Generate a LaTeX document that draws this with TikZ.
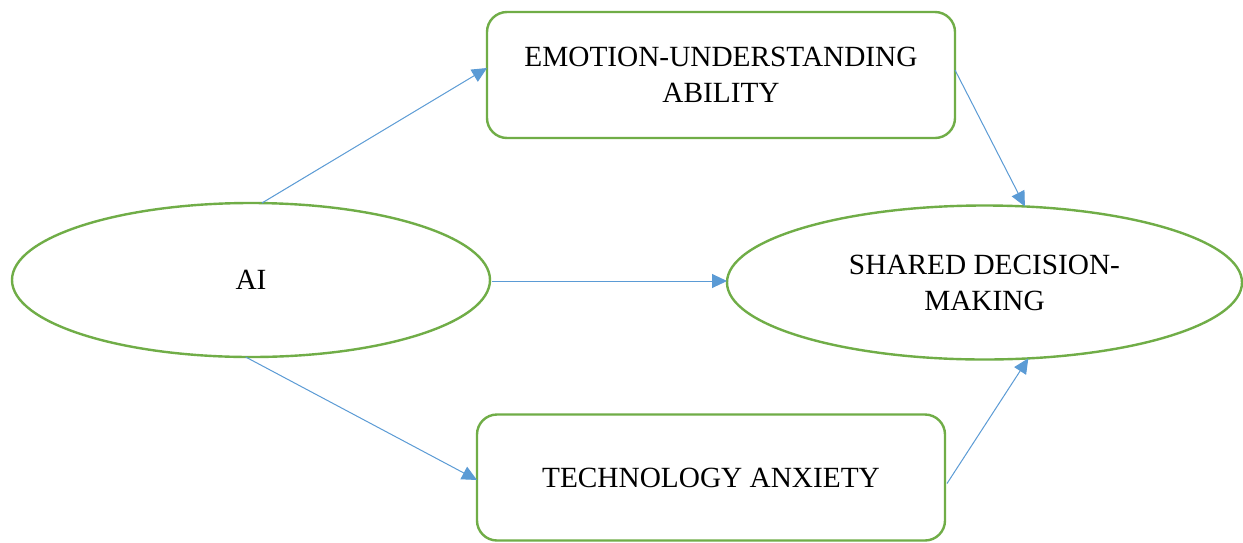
\documentclass[tikz,border=0pt]{standalone}
\usepackage{fontspec}
\setmainfont{Liberation Serif}
\usetikzlibrary{shapes.geometric,arrows.meta,calc}
\definecolor{frame}{HTML}{70AD47}
\definecolor{link}{HTML}{5B9BD5}
\begin{document}
\begin{tikzpicture}[x=1pt,y=-1pt,
  every node/.style={font=\fontsize{29.3}{36}\selectfont, align=center, text=black, inner sep=0pt, outer sep=0pt},
  oval/.style={ellipse, draw=frame, line width=2.4pt, fill=white},
  card/.style={rectangle, rounded corners=20pt, draw=frame, line width=2.4pt, fill=white,
    minimum width=468pt, minimum height=126pt},
  link/.style={draw=link, line width=1pt, -{Triangle[length=15pt,width=14pt]}}]
\useasboundingbox (0,0) rectangle (1243,542);
\fill[white] (0,0) rectangle (1243,542);

% constructs
\node[oval, minimum width=478pt, minimum height=154pt] (ai) at (251,280) {AI};
\node[oval, minimum width=515pt, minimum height=154pt] (sdm) at (984.5,282.5) {SHARED DECISION-\\MAKING};
\node[card] (eua) at (721,75) {EMOTION-UNDERSTANDING\\ABILITY};
\node[card] (ta) at (711,477.5) {TECHNOLOGY ANXIETY};

% paths
\coordinate (aiR) at ($(ai.east)+(2,1)$);
\draw[link] (ai.82) -- ($(eua.west)+(0,-7)$);
\draw[link] ($(eua.east)+(0,-5)$) -- (sdm.62);
\draw[link] (aiR) -- (aiR -| sdm.west);
\draw[link] (ai.266) -- ($(ta.west)+(0,2.5)$);
\draw[link] ($(ta.east)+(2,6)$) -- (sdm.-60);
\end{tikzpicture}
\end{document}
